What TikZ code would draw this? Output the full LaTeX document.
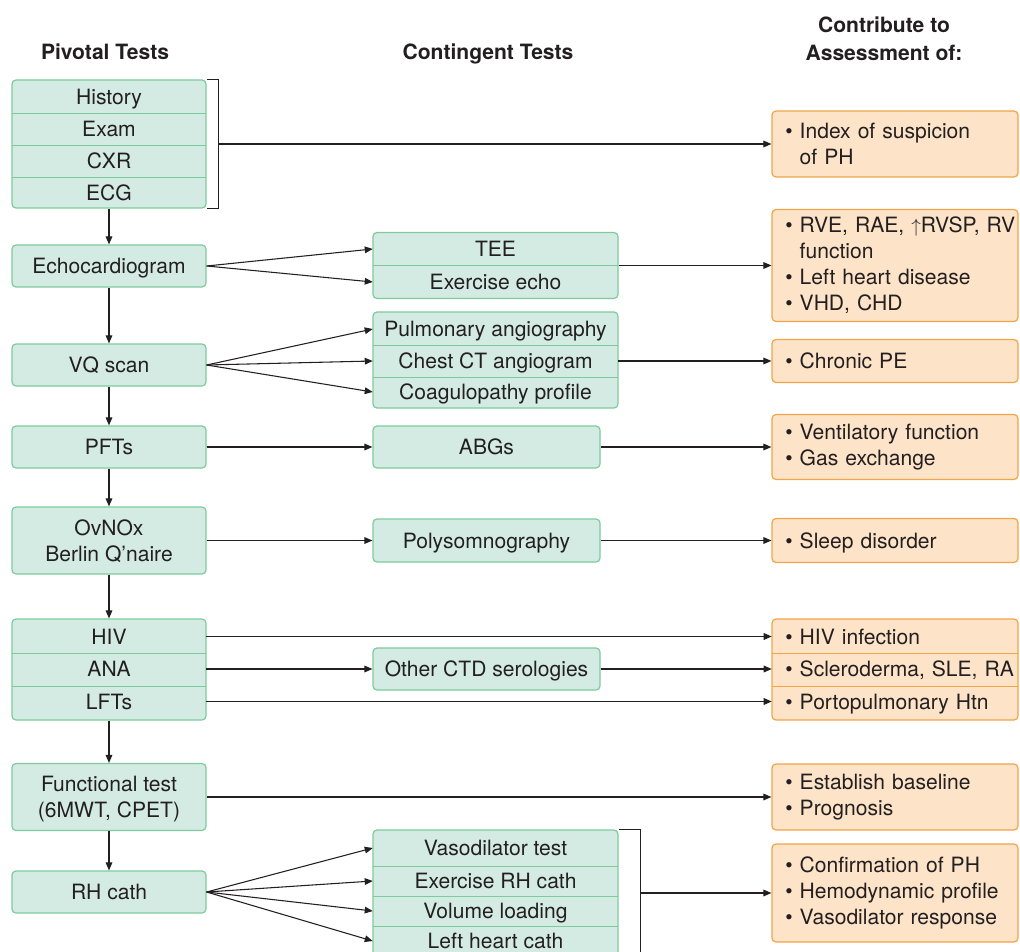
\documentclass[tikz,border=0pt]{standalone}
\usepackage{fontspec}
\setmainfont{TeX Gyre Heros}
\usetikzlibrary{arrows.meta,positioning}

\definecolor{mintfill}{HTML}{D4EBE4}
\definecolor{mintline}{HTML}{7DCB9D}
\definecolor{peachfill}{HTML}{FDE3C8}
\definecolor{peachline}{HTML}{F3A447}
\definecolor{ink}{HTML}{231F20}

\tikzset{
  test/.style={draw=mintline, fill=mintfill, line width=0.9pt, rounded corners=3pt, inner sep=0pt, text depth=0pt, align=center},
  result/.style={draw=peachline, fill=peachfill, line width=0.9pt, rounded corners=3pt, inner xsep=10pt, inner ysep=0pt, text width=164.5pt, align=left},
  oneline/.style={text depth=0pt},
  row/.style={inner sep=0pt, text depth=0pt, align=center},
  resrow/.style={inner xsep=10pt, inner ysep=0pt, text depth=0pt, text width=164.5pt, align=left},
  divider/.style={mintline, line width=0.8pt},
  resdivider/.style={peachline, line width=0.8pt},
  link/.style={ink, line width=0.8pt, -{Triangle[length=6pt,width=5pt]}},
  wire/.style={ink, line width=0.8pt},
  head/.style={font=\fontsize{15.8pt}{21pt}\selectfont\bfseries, text depth=0pt, align=center},
}
\newcommand{\hang}{\phantom{\textbullet\ }}

\begin{document}
\begin{tikzpicture}[x=0.75pt,y=-0.75pt,every node/.style={text=ink, font=\fontsize{15.8pt}{19.5pt}\selectfont}]
\useasboundingbox (0,0) rectangle (1020,952);
\clip (0,0) rectangle (1020,952);

% column heads
\node[head] (pivhd) at (105,52) {Pivotal Tests};
\node[head] (conhd) at (488,52) {Contingent Tests};
\node[head] (asshd) at (884,39) {Contribute to\\Assessment of:};

% pivotal tests
\node[test, minimum width=145.5pt, minimum height=96pt] (hx) at (109,144) {};
\foreach \y/\t [count=\i] in {97/History,129/Exam,161/CXR,193/ECG}
  \node[row, minimum width=145.5pt, minimum height=24pt] (hx\i) at (109,\y) {\t};
\foreach \i in {1,2,3} \draw[divider] (hx\i.south west) -- (hx\i.south east);

\node[test, minimum width=145.5pt, minimum height=31.5pt] (echo) at (109,266) {Echocardiogram};
\node[test, minimum width=145.5pt, minimum height=31.5pt] (vq) at (109,365) {VQ scan};
\node[test, minimum width=145.5pt, minimum height=31.5pt] (pft) at (109,447) {PFTs};
\node[test, minimum width=145.5pt, minimum height=50.25pt] (osa) at (109,540.5) {OvNOx\\Berlin Q'naire};

\node[test, minimum width=145.5pt, minimum height=75.75pt] (hiv) at (109,669.5) {};
\foreach \y/\t [count=\i] in {636.5/HIV,669/ANA,701.5/LFTs}
  \node[row, minimum width=145.5pt, minimum height=25.25pt] (hiv\i) at (109,\y) {\t};
\foreach \i in {1,2} \draw[divider] (hiv\i.south west) -- (hiv\i.south east);

\node[test, minimum width=145.5pt, minimum height=50.25pt] (func) at (109,797) {Functional test\\(6MWT, CPET)};
\node[test, minimum width=145.5pt, minimum height=31.5pt] (rhc) at (109,892) {RH cath};

% contingent tests
\node[test, minimum width=183.75pt, minimum height=49.5pt] (tee) at (495.5,265.5) {};
\foreach \y/\t [count=\i] in {249/TEE,282/Exercise echo}
  \node[row, minimum width=183.75pt, minimum height=24.75pt] (tee\i) at (495.5,\y) {\t};
\draw[divider] (tee1.south west) -- (tee1.south east);

\node[test, minimum width=183.75pt, minimum height=72pt] (ct) at (495.5,360) {};
\foreach \y/\t [count=\i] in {329/Pulmonary angiography,361/Chest CT angiogram,392/Coagulopathy profile}
  \node[row, minimum width=183.75pt, minimum height=24pt] (ct\i) at (495.5,\y) {\t};
\foreach \i in {1,2} \draw[divider] (ct\i.south west) -- (ct\i.south east);

\node[test, minimum width=170.25pt, minimum height=31.5pt] (abg) at (486.5,447) {ABGs};
\node[test, minimum width=170.25pt, minimum height=32.25pt] (psg) at (486.5,540.5) {Polysomnography};
\node[test, minimum width=170.25pt, minimum height=31.5pt] (ctd) at (486.5,669) {Other CTD serologies};

\node[test, minimum width=183.75pt, minimum height=94.5pt] (cath) at (495.5,893) {};
\node[row, minimum width=183.75pt, minimum height=27pt] (cath1) at (495.5,848) {Vasodilator test};
\foreach \y/\t [count=\i from 2] in {881/Exercise RH cath,911/Volume loading,941/Left heart cath}
  \node[row, minimum width=183.75pt, minimum height=22.5pt] (cath\i) at (495.5,\y) {\t};
\foreach \i in {1,2,3} \draw[divider] (cath\i.south west) -- (cath\i.south east);

% assessment boxes
\node[result, minimum height=49.5pt] (o1) at (895,144) {\textbullet\ Index of suspicion\\\hang of PH};
\node[result, minimum height=84pt] (o2) at (895,265.5)
  {\mbox{\textbullet\ RVE, RAE, $\uparrow$RVSP, RV}\\\hang function\\\textbullet\ Left heart disease\\\textbullet\ VHD, CHD};
\node[result, oneline, minimum height=32.25pt] (o3) at (895,361) {\textbullet\ Chronic PE};
\node[result, minimum height=48.75pt] (o4) at (895,447) {\textbullet\ Ventilatory function\\\textbullet\ Gas exchange};
\node[result, oneline, minimum height=33pt] (o5) at (895,540.5) {\textbullet\ Sleep disorder};

\node[result, minimum height=75.75pt] (o6) at (895,669.5) {};
\foreach \y/\t [count=\i] in {636.5/HIV infection,669/{Scleroderma, SLE, RA},701.5/Portopulmonary Htn}
  \node[resrow, minimum height=25.25pt] (o6r\i) at (895,\y) {\mbox{\textbullet\ \t}};
\foreach \i in {1,2} \draw[resdivider] (o6r\i.south west) -- (o6r\i.south east);

\node[result, minimum height=49.5pt] (o7) at (895,797) {\textbullet\ Establish baseline\\\textbullet\ Prognosis};
\node[result, minimum height=73.5pt] (o8) at (895,893)
  {\textbullet\ Confirmation of PH\\\textbullet\ Hemodynamic profile\\\textbullet\ Vasodilator response};

% pivotal sequence
\draw[link] (hx.south) -- (echo.north);
\draw[link] (echo.south) -- (vq.north);
\draw[link] (vq.south) -- (pft.north);
\draw[link] (pft.south) -- (osa.north);
\draw[link] (osa.south) -- (hiv.north);
\draw[link] (hiv.south) -- (func.north);
\draw[link] (func.south) -- (rhc.north);

% brackets
\coordinate (hxbr) at ([xshift=9pt]hx.east);
\draw[wire] (hx.north east) -| (hxbr) |- (hx.south east);
\draw[link] (hxbr) -- (o1.west);
\coordinate (cathbr) at ([xshift=16.5pt]cath.east);
\draw[wire] (cath.north east) -| (cathbr) |- (cath.south east);
\draw[link] (cathbr) -- (o8.west);

% fan-out to contingent tests
\foreach \i in {1,2} \draw[link] (echo.east) -- (tee\i.west);
\foreach \i in {1,2,3} \draw[link] (vq.east) -- (ct\i.west);
\draw[link] (pft.east) -- (abg.west);
\draw[link] (osa.east) -- (psg.west);
\foreach \i in {1,...,4} \draw[link] (rhc.east) -- (cath\i.west);

% on to assessment
\draw[link] (tee.east) -- (o2.west);
\draw[link] (ct2.east) -- (o3.west);
\draw[link] (abg.east) -- (o4.west);
\draw[link] (psg.east) -- (o5.west);
\draw[link] (hiv1.east) -- (o6r1.west);
\draw[link] (hiv2.east) -- (ctd.west);
\draw[link] (ctd.east) -- (o6r2.west);
\draw[link] (hiv3.east) -- (o6r3.west);
\draw[link] (func.east) -- (o7.west);
\end{tikzpicture}
\end{document}
